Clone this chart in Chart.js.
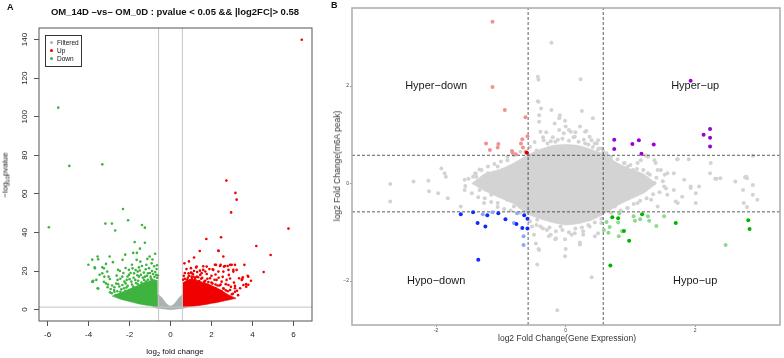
<!DOCTYPE html>
<html>
<head>
<meta charset="utf-8">
<script src="https://cdn.jsdelivr.net/npm/chart.js@4.4.0/dist/chart.umd.min.js"></script>
<style>
  body { margin: 0; background: #fff; width: 784px; height: 358px; position: relative; overflow: hidden;
         font-family: 'Liberation Sans', Arial, Helvetica, sans-serif; color: #111; }
  .abs { position: absolute; white-space: nowrap; }
  .ctr { transform: translate(-50%, -50%); }
  .rot { transform: translate(-50%, -50%) rotate(-90deg); }
  sub { font-size: 70%; vertical-align: -2px; line-height: 0; }
  #legA { left: 45px; top: 35px; width: 35px; height: 30px; border: 1px solid #333; font-size: 6.5px; }
  #legA div { position: absolute; left: 4px; }
  #legA span.dot { display: inline-block; width: 3px; height: 3px; border-radius: 50%; margin-right: 4px; vertical-align: 1px; }
</style>
</head>
<body>
<canvas id="cA" class="abs" style="left:0;top:0" width="330" height="358"></canvas>
<canvas id="cB" class="abs" style="left:330px;top:0" width="454" height="358"></canvas>

<div class="abs" style="left:7px;top:2px;font-weight:bold;font-size:9px">A</div>
<div class="abs ctr" style="left:175px;top:11px;font-weight:bold;font-size:9.5px">OM_14D –vs– OM_0D : pvalue &lt; 0.05 &amp;&amp; |log2FC|&gt; 0.58</div>
<div class="abs rot" style="left:5px;top:175px;font-size:8px">−log<sub>10</sub>pvalue</div>
<div class="abs ctr" style="left:175px;top:351px;font-size:8px">log<sub>2</sub> fold change</div>
<div id="legA" class="abs">
  <div style="top:3px"><span class="dot" style="background:#aab2b2"></span>Filtered</div>
  <div style="top:11px"><span class="dot" style="background:#f00000"></span>Up</div>
  <div style="top:18.5px"><span class="dot" style="background:#3fb33f"></span>Down</div>
</div>

<div class="abs" style="left:331px;top:0px;font-weight:bold;font-size:9px">B</div>
<div class="abs rot" style="left:337px;top:166px;font-size:8.5px;color:#333">log2 Fold Change(m6A peak)</div>
<div class="abs ctr" style="left:567px;top:338px;font-size:8.5px;color:#333">log2 Fold Change(Gene Expression)</div>

<script>
// ---------- Panel A : volcano plot ----------
const xTicksA = [-6, -4, -2, 0, 2, 4, 6];
const yTicksA = [0, 20, 40, 60, 80, 100, 120, 140];
const fcCut = 0.58;
const pCut = 1.3;

// significant down (green)
const downA = [
  [-5.94,42.7],[-5.48,104.7],[-4.94,74.5],[-3.33,75.3],
  [-2.32,52.2],[-2.07,46.3],[-3.18,44.6],[-2.86,44.6],[-2.70,41.0],[-1.39,43.9],[-1.25,42.5],
  [-1.75,35.0],[-1.25,34.7],[-1.49,31.6],[-1.82,29.4],[-1.64,29.4],[-2.21,28.5],[-2.97,27.5],
  [-3.56,27.5],[-3.82,25.9],[-4.01,23.3],[-2.34,25.8],[-2.81,24.6],[-3.15,23.7],[-3.33,22.0],
  [-3.70,22.0],[-3.46,18.1],[-3.77,15.0],[-3.53,10.9],[-1.13,26.3],[-1.18,23.3],[-1.65,25.8],
  [-1.88,23.3],[-2.56,20.6],[-2.19,21.6],[-1.47,24.9],[-3.79,14.4],[-3.56,11.1],[-3.25,14.4],
  [-3.53,26.1],[-3.69,21.4],
  [-3.23,17.1],[-3.02,17.1],[-2.96,15.9],[-3.15,13.6],[-3.07,11.6],[-2.92,10.7],[-2.74,11.6],
  [-2.58,15.4],[-2.63,17.6],[-2.47,20.0],[-2.35,17.1],[-2.14,15.4],[-2.03,18.0],[-2.03,20.6],
  [-1.85,21.4],[-1.78,18.8],[-1.60,19.7],[-1.54,21.9],[-1.39,22.6],[-1.21,20.9],[-1.10,18.8],
  [-1.25,17.1],[-1.54,17.1],[-1.72,15.4],[-1.91,14.5],[-2.09,12.3],[-2.27,11.1],[-2.45,9.3],
  [-2.68,7.6],[-2.55,13.3],[-0.89,15.4],[-0.81,13.6],[-0.97,17.1],[-1.29,15.4],[-1.05,12.3],
  [-1.34,12.6],[-1.60,13.3],[-1.82,11.9],[-2.19,13.6],[-2.35,12.8],[-2.74,9.3],[-2.87,8.5],
  [-3.82,14.5],[-3.62,15.4],[-3.33,18.8],[-3.25,21.4],[-3.09,19.7],
  [-0.65,16.5],[-0.70,18.0],[-0.75,19.5],[-0.68,21.0],[-0.78,17.0],[-0.85,18.5],[-0.90,20.0],
  [-0.95,16.0],[-1.00,19.0],[-1.05,21.5],[-1.10,15.5],[-1.15,17.5],[-1.20,14.5],[-1.30,19.2],
  [-1.35,16.5],[-1.42,14.0],[-1.45,18.0],[-1.50,20.3],[-1.58,15.0],[-1.62,17.8],[-1.68,13.8],
  [-1.70,20.5],[-1.80,16.5],[-1.88,13.0],[-1.95,19.0],[-2.00,15.8],[-2.10,17.2],[-2.15,11.5],
  [-2.25,14.5],[-2.30,19.0],[-2.40,10.5],[-2.45,16.0],[-2.50,12.0],[-2.60,9.5],[-2.65,13.5],
  [-2.75,10.2],[-2.85,12.5],[-2.95,9.0],[-3.05,13.0],[-0.72,14.5],[-0.82,12.2],[-0.95,13.2],
  [-1.12,12.5],[-1.25,11.5],[-1.55,11.5],[-1.75,10.8],[-2.00,10.0],[-2.20,9.8],[-0.62,17.8],
  [-0.66,23.0],[-0.80,22.5],[-0.92,24.0],[-1.02,27.5],[-0.75,29.0],[-0.88,26.0]
];
// dense part of the down cloud, upper and lower edge
const downCoreTop = [[-2.85,7.0],[-2.5,8.6],[-2.2,9.8],[-1.9,11.2],[-1.6,12.5],[-1.3,14.0],[-1.0,15.0],[-0.8,15.5],[-0.62,15.0]];
const downCoreBot = [[-2.85,7.0],[-2.5,5.6],[-2.2,4.7],[-1.9,3.9],[-1.6,3.1],[-1.3,2.5],[-1.0,2.0],[-0.8,1.7],[-0.62,1.4]];

// significant up (red)
const upA = [
  [6.41,139.9],[2.73,66.9],[3.17,60.5],[3.23,57.0],[2.96,50.4],[5.76,42.0],[1.75,36.6],[2.47,37.5],
  [1.43,30.4],[2.35,30.4],[4.19,33.0],[4.89,28.3],[3.61,23.2],[4.55,19.5],[3.93,15.0],[3.70,11.9],
  [3.80,12.9],[3.53,16.8],[3.77,17.5],[3.51,15.9],[3.56,12.8],[3.69,13.2],[3.15,23.2],[3.07,20.6],
  [3.23,20.6],[3.35,16.3],[3.15,11.1],[2.91,23.2],[2.66,22.6],[2.45,23.2],[2.22,23.2],[2.34,19.7],
  [2.09,20.6],[1.77,22.3],[1.52,18.9],[1.28,22.3],[1.03,18.9],[1.12,17.1],[2.58,27.5],[2.34,30.6],
  [1.00,19.2],[1.25,21.9],[1.44,20.2],[1.60,20.6],[1.03,17.1],[1.28,17.1],[1.77,18.5],[2.06,20.9],
  [2.17,23.2],[2.42,22.6],[2.61,22.3],[2.79,22.6],[2.99,23.2],[3.07,19.7],[2.83,20.6],[2.58,19.7],
  [1.93,16.3],[2.25,15.4],[2.50,14.5],[2.74,15.4],[2.91,16.1],[2.83,12.8],[3.15,12.3],[3.40,11.1],
  [3.15,9.3],[2.91,10.2],[2.58,11.1],[3.48,15.4],[3.80,17.1],
  [0.70,16.0],[0.90,17.5],[1.20,16.5],[1.50,16.0],[0.80,15.5],[1.70,15.0],[2.00,14.0],[2.20,13.0],
  [2.40,12.5],[2.70,10.0],[3.00,8.0],
  [0.62,15.5],[0.65,17.5],[0.70,19.0],[0.72,13.8],[0.78,21.0],[0.85,16.5],[0.88,18.8],[0.95,15.2],
  [1.00,21.5],[1.05,16.0],[1.10,18.5],[1.15,20.0],[1.20,15.8],[1.30,19.5],[1.35,16.8],[1.40,14.8],
  [1.45,18.0],[1.55,16.5],[1.60,22.5],[1.65,14.5],[1.70,19.8],[1.80,16.0],[1.85,14.3],[1.90,21.0],
  [2.00,17.5],[2.05,13.5],[2.15,15.5],[2.20,18.2],[2.30,12.5],[2.35,16.5],[2.45,13.0],[2.55,17.0],
  [2.60,10.8],[2.70,13.2],[2.80,9.5],[2.85,18.0],[2.95,11.8],[3.05,8.2],[3.10,14.0],[3.25,9.8],
  [3.30,7.5],[0.68,24.0],[0.90,25.0],[1.15,27.0],[0.78,12.5],[1.00,13.5],[1.30,13.0],[1.60,12.6],
  [1.90,12.0],[2.20,11.0],[2.50,9.5]
];
const upCoreTop = [[0.6,14.0],[0.9,15.5],[1.2,15.5],[1.5,14.5],[1.8,13.5],[2.1,12.0],[2.4,10.5],[2.7,8.5],[3.0,6.8],[3.2,5.9]];
const upCoreBot = [[0.6,1.4],[0.9,1.6],[1.2,1.9],[1.5,2.3],[1.8,2.8],[2.1,3.4],[2.4,4.0],[2.7,4.7],[3.0,5.4],[3.2,5.9]];

// not significant (grey V near zero)
const filtTop = [[-0.85,1.3],[-0.62,8.0],[-0.45,6.5],[-0.3,4.5],[-0.15,2.6],[0,1.8],[0.15,2.6],[0.3,4.5],[0.45,6.5],[0.62,8.0],[0.85,1.3]];
const filtBot = [[-0.85,1.3],[-0.62,0.6],[-0.45,0.5],[-0.3,0.3],[-0.15,0.1],[0,0],[0.15,0.1],[0.3,0.3],[0.45,0.5],[0.62,0.6],[0.85,1.3]];

// ---------- Panel B : four quadrant plot ----------
const xTicksB = [-2, 0, 2];
const yTicksB = [-2, 0, 2];
const quadCut = 0.58;
const quadLabels = [["Hyper−down",-2,2],["Hyper−up",2,2],["Hypo−down",-2,-2],["Hypo−up",2,-2]];

const hyperDownLight = [[-1.13,3.32],[-1.13,1.98],[-0.94,1.51],[-0.62,1.36],[-0.59,0.97],[-0.67,0.91],[-0.69,0.82],
  [-0.66,0.74],[-0.62,0.65],[-1.23,0.82],[-1.04,0.81],[-1.05,0.74],[-1.17,0.69],[-0.83,0.67],[-0.82,0.63],[-0.77,0.60]];
const hyperDownDark = [[-0.60,0.63]];
const hyperUp = [[1.93,2.11],[0.75,0.90],[0.75,0.71],[1.03,0.81],[1.13,0.89],[1.36,0.80],[1.17,0.61],
  [2.13,1.00],[2.23,1.12],[2.23,0.94],[2.23,0.76]];
const hypoDownDark = [[-1.62,-0.63],[-1.43,-0.59],[-1.36,-0.81],[-1.24,-0.88],[-1.21,-0.65],[-1.04,-0.61],
  [-0.93,-0.73],[-0.76,-0.83],[-0.67,-0.91],[-0.64,-0.65],[-0.59,-0.72],[-0.59,-0.92],[-1.35,-1.56]];
const hypoDownLight = [[-1.28,-0.63],[-1.13,-0.59],[-0.80,-0.81],[-0.75,-0.61],[-0.65,-1.08],[-0.65,-1.26]];
const hypoUpDark = [[0.72,-0.69],[0.81,-0.71],[1.18,-0.63],[0.90,-0.97],[0.98,-1.17],[0.69,-1.68],
  [1.70,-0.81],[2.82,-0.75],[2.84,-0.93]];
const hypoUpLight = [[0.63,-0.79],[0.59,-0.95],[0.68,-0.89],[0.66,-1.01],[0.81,-0.80],[0.87,-0.98],[0.82,-1.08],
  [1.05,-0.67],[1.07,-0.76],[1.15,-0.73],[1.27,-0.67],[1.29,-0.76],[1.40,-0.87],[1.52,-0.67],[2.47,-1.26],[0.83,-0.61]];

const otherB = [
  [-0.22,2.89],[-0.43,2.19],[-0.42,2.13],[0.23,2.14],[-0.43,1.69],[-0.42,1.68],[-0.38,1.54],[-0.41,1.40],
  [-0.41,1.27],[-0.22,1.51],[-0.09,1.40],[-0.17,1.23],[-0.10,1.10],[-0.23,0.87],[-0.34,0.89],[-0.39,1.06],
  [-0.16,0.86],[-0.03,1.03],[-0.10,1.34],[0.00,1.17],[0.25,1.49],[0.42,1.34],[0.22,1.17],[0.08,1.06],
  [0.30,1.06],[0.37,0.96],[0.14,0.96],[0.50,0.89],[0.51,0.72],[0.45,0.82],[0.63,0.62],[0.76,0.35],
  [0.91,0.42],[1.04,0.28],[1.16,0.48],[1.27,0.55],[1.39,0.42],[1.47,0.28],[1.73,0.50],[1.90,0.50],
  [2.24,0.42],[2.23,0.21],[2.89,0.57],[1.67,0.21],[1.53,0.18],[2.77,0.13],[2.39,0.11],[1.27,0.21],
  [1.16,0.14],[-0.01,1.29],[0.32,1.08],[0.40,0.89],[0.48,0.82],[0.30,0.82],[0.55,0.72],[0.70,0.48],
  [0.81,0.35],[0.96,0.35],[1.11,0.42],[1.24,0.57],[1.37,0.48],[1.42,0.28],[1.57,0.21],[1.72,0.50],
  [1.83,0.08],[2.33,0.10],[2.62,0.04],[2.80,0.11],[2.06,-0.06],[1.93,-0.06],[1.27,-0.06],[1.11,0.08],
  [0.91,-0.03],[0.86,0.18],
  [-1.92,0.31],[-1.87,0.21],[-2.35,0.04],[-2.71,-0.01],[-2.12,0.06],[-1.33,0.29],[-1.43,0.14],[-1.56,0.08],
  [-1.20,0.21],[-1.05,0.35],[-0.95,0.28],[-0.90,0.48],[-0.74,0.42],[-0.80,0.21],[-0.64,0.48],[-0.51,0.55],
  [-0.87,0.11],[-0.97,0.04],[-1.39,0.21],
  [-2.71,-0.37],[-2.11,-0.16],[-1.97,-0.20],[-1.82,-0.30],[-1.62,-0.47],[-1.56,-0.13],[-1.38,0.14],
  [-1.33,-0.13],[-1.26,-0.40],[-1.15,-0.23],[-1.05,-0.40],[-1.20,0.01],[-1.00,-0.13],[-0.90,-0.33],
  [-0.80,-0.47],[-0.69,-0.40],[-0.72,-0.20],[-0.44,-0.74],[-0.39,-0.88],[-0.49,-1.05],[-0.46,-1.23],
  [-0.41,-1.36],[-0.44,-1.66],[-0.23,-1.05],[-0.16,-1.14],[-0.08,-0.88],[-0.29,-0.95],[-0.52,-0.88],
  [-1.85,0.14],[-0.13,-2.60],[0.40,-1.92],[-0.01,-1.49],[-0.15,-1.12],[0.22,-1.21],[0.45,-1.08],
  [0.27,-1.05],[0.14,-1.02],[-0.26,-1.08],[-0.42,-1.34],[-0.01,-1.14],[0.00,-1.34],[0.22,-1.25],
  [0.09,-1.05],[0.27,-0.98],[0.37,-0.88],[0.50,-1.02],[0.55,-0.81],[0.42,-0.67],[0.17,-0.74],
  [0.76,-0.47],[0.91,-0.33],[0.96,-0.50],[1.11,-0.40],[1.22,-0.13],[1.32,-0.33],[1.42,-0.47],
  [1.37,0.01],[1.52,-0.06],[1.57,-0.23],[1.67,-0.13],[1.73,-0.40],[1.80,-0.27],[1.93,-0.09],
  [2.01,-0.20],[2.01,-0.40],[2.31,0.10],[2.74,-0.13],[2.75,-0.40],[2.80,-0.48],[2.79,0.14],
  [2.89,-0.03],[2.89,-0.23],[2.96,-0.33],[1.70,-0.37],
  // ring of points round the dense centre
  [-0.55,0.75],[-0.48,0.85],[-0.35,0.95],[-0.28,0.82],[-0.20,0.95],[-0.12,0.90],[-0.05,0.92],[0.05,0.88],
  [0.12,0.95],[0.20,0.86],[0.28,0.90],[0.35,0.80],[0.42,0.75],[0.50,0.70],[0.58,0.66],[-0.45,0.68],
  [0.15,1.05],[-0.30,1.05],[0.05,1.10],
  [-1.50,0.10],[-1.40,0.20],[-1.30,0.28],[-1.20,0.35],[-1.10,0.40],[-1.00,0.45],[-0.90,0.55],[-0.80,0.58],
  [-0.70,0.65],[-1.55,-0.05],[-1.45,-0.20],[-1.35,-0.28],[-1.25,-0.30],[-1.15,-0.38],[-1.05,-0.48],
  [-0.95,-0.52],[-0.85,-0.55],[-0.70,-0.60],
  [-0.55,-0.78],[-0.45,-0.85],[-0.35,-0.92],[-0.25,-0.90],[-0.15,-0.98],[-0.05,-0.95],[0.05,-1.00],
  [0.15,-0.92],[0.25,-0.90],[0.35,-0.85],[0.45,-0.80],[0.55,-0.72],
  [0.70,0.55],[0.80,0.50],[0.90,0.42],[1.00,0.38],[1.10,0.30],[1.20,0.28],[1.30,0.18],[1.40,0.12],
  [1.50,0.05],[1.55,-0.10],[1.45,-0.18],[1.35,-0.22],[1.25,-0.30],[1.15,-0.35],[1.05,-0.42],
  [0.95,-0.50],[0.85,-0.55],[0.70,-0.60]
];
const otherCoreTop = [[-1.45,0.0],[-1.25,0.2],[-1.0,0.3],[-0.8,0.42],[-0.6,0.58],[-0.4,0.7],[-0.2,0.78],[0,0.8],
  [0.2,0.78],[0.4,0.7],[0.6,0.6],[0.8,0.42],[1.0,0.3],[1.2,0.2],[1.4,0.0]];
const otherCoreBot = [[-1.45,0.0],[-1.25,-0.15],[-1.0,-0.3],[-0.8,-0.42],[-0.6,-0.62],[-0.4,-0.72],[-0.2,-0.8],[0,-0.85],
  [0.2,-0.82],[0.4,-0.75],[0.6,-0.62],[0.8,-0.45],[1.0,-0.32],[1.2,-0.2],[1.4,0.0]];

// ---------- helpers ----------
const FONT = "'Liberation Sans', Arial, Helvetica, sans-serif";
const toXY = arr => arr.map(p => ({ x: p[0], y: p[1] }));

function pts(arr, color, r, order) {
  return { type: 'scatter', data: toXY(arr), backgroundColor: color, borderWidth: 0, pointRadius: r, order: order };
}
function edge(arr, color, fill, order) {
  return { type: 'line', data: toXY(arr), borderColor: color, backgroundColor: color, borderWidth: 0.6,
           pointRadius: 0, fill: fill, tension: 0.2, order: order };
}
function rule(a, b, color, dash, width, order) {
  return { type: 'line', data: [{ x: a[0], y: a[1] }, { x: b[0], y: b[1] }], borderColor: color, borderWidth: width,
           borderDash: dash, pointRadius: 0, fill: false, order: order };
}
const setTicks = list => scale => { scale.ticks = list.map(v => ({ value: v })); };

// frame drawn around the plot area
const frame = {
  id: 'frame',
  afterDraw(chart, args, opts) {
    const a = chart.chartArea, ctx = chart.ctx;
    ctx.save();
    ctx.strokeStyle = opts.color;
    ctx.lineWidth = opts.width;
    ctx.strokeRect(a.left, a.top, a.right - a.left, a.bottom - a.top);
    ctx.restore();
  }
};

// ---------- Chart A ----------
const A = { xMin: -6.42, xMax: 6.91, yMin: -5.9, yMax: 146 };
const green = '#3fb33f', red = '#f00000', grey = '#aab2b2';

new Chart(document.getElementById('cA'), {
  type: 'scatter',
  data: {
    datasets: [
      pts(upA, red, 1.3, 0),
      pts(downA, green, 1.3, 0),
      edge(upCoreTop, red, '+1', 2),
      edge(upCoreBot, red, false, 2),
      edge(downCoreTop, green, '+1', 2),
      edge(downCoreBot, green, false, 2),
      edge(filtTop, grey, '+1', 3),
      edge(filtBot, grey, false, 3),
      rule([-fcCut, A.yMin], [-fcCut, A.yMax], '#c4c4c4', [], 1, 1),
      rule([fcCut, A.yMin], [fcCut, A.yMax], '#c4c4c4', [], 1, 1),
      rule([A.xMin, pCut], [A.xMax, pCut], '#c4c4c4', [], 1, 1)
    ]
  },
  options: {
    responsive: false, animation: false, devicePixelRatio: 1,
    layout: { padding: { left: 0, top: 28, right: 18, bottom: 0 } },
    plugins: {
      legend: { display: false }, tooltip: { enabled: false },
      frame: { color: '#555', width: 1 }
    },
    scales: {
      x: {
        type: 'linear', min: A.xMin, max: A.xMax,
        afterBuildTicks: setTicks(xTicksA),
        afterFit: s => { s.height = 37; },
        border: { display: false },
        grid: { drawOnChartArea: false, drawTicks: true, tickLength: 5, color: '#555' },
        ticks: { font: { family: FONT, size: 8 }, color: '#222', padding: 4, maxRotation: 0, autoSkip: false }
      },
      y: {
        type: 'linear', min: A.yMin, max: A.yMax,
        afterBuildTicks: setTicks(yTicksA),
        afterFit: s => { s.width = 39; },
        border: { display: false },
        grid: { drawOnChartArea: false, drawTicks: true, tickLength: 5, color: '#555' },
        ticks: { display: false }
      }
    }
  },
  plugins: [frame, {
    id: 'yLabelsA',
    afterDraw(chart) {
      const ctx = chart.ctx, ys = chart.scales.y;
      ctx.save();
      ctx.fillStyle = '#222';
      ctx.font = '8px ' + FONT;
      ctx.textAlign = 'center';
      ctx.textBaseline = 'middle';
      yTicksA.forEach(v => {
        ctx.save();
        ctx.translate(25, ys.getPixelForValue(v));
        ctx.rotate(-Math.PI / 2);
        ctx.fillText(String(v), 0, 0);
        ctx.restore();
      });
      ctx.restore();
    }
  }]
});

// ---------- Chart B ----------
const B = { xMin: -3.30, xMax: 3.31, yMin: -2.9, yMax: 3.6 };
const lightGrey = '#d3d3d3';

new Chart(document.getElementById('cB'), {
  type: 'scatter',
  data: {
    datasets: [
      pts(hyperDownDark, '#d10000', 2, 0),
      pts(hyperDownLight, '#f39191', 2, 0),
      pts(hyperUp, '#9a00d8', 2, 0),
      pts(hypoDownDark, '#0f2cff', 2, 0),
      pts(hypoDownLight, '#93a5f7', 2, 0),
      pts(hypoUpDark, '#00b400', 2, 0),
      pts(hypoUpLight, '#8ed98e', 2, 0),
      rule([-quadCut, B.yMin], [-quadCut, B.yMax], '#333', [3, 2], 0.8, 1),
      rule([quadCut, B.yMin], [quadCut, B.yMax], '#333', [3, 2], 0.8, 1),
      rule([B.xMin, quadCut], [B.xMax, quadCut], '#333', [3, 2], 0.8, 1),
      rule([B.xMin, -quadCut], [B.xMax, -quadCut], '#333', [3, 2], 0.8, 1),
      pts(otherB, lightGrey, 2, 2),
      edge(otherCoreTop, lightGrey, '+1', 3),
      edge(otherCoreBot, lightGrey, false, 3)
    ]
  },
  options: {
    responsive: false, animation: false, devicePixelRatio: 1,
    layout: { padding: { left: 0, top: 8, right: 1, bottom: 0 } },
    plugins: {
      legend: { display: false }, tooltip: { enabled: false },
      frame: { color: '#b0b0b0', width: 1.6 }
    },
    scales: {
      x: {
        type: 'linear', min: B.xMin, max: B.xMax,
        afterBuildTicks: setTicks(xTicksB),
        afterFit: s => { s.height = 33; },
        border: { display: false },
        grid: { drawOnChartArea: false, drawTicks: true, tickLength: 2, color: '#999' },
        ticks: { font: { family: FONT, size: 5 }, color: '#444', padding: 1, maxRotation: 0, autoSkip: false }
      },
      y: {
        type: 'linear', min: B.yMin, max: B.yMax,
        afterBuildTicks: setTicks(yTicksB),
        afterFit: s => { s.width = 22; },
        border: { display: false },
        grid: { drawOnChartArea: false, drawTicks: true, tickLength: 2, color: '#999' },
        ticks: { font: { family: FONT, size: 5 }, color: '#444', padding: 1, autoSkip: false,
                 callback: v => (v < 0 ? '−' + Math.abs(v) : String(v)) }
      }
    }
  },
  plugins: [frame, {
    id: 'quadText',
    afterDatasetsDraw(chart) {
      const ctx = chart.ctx, xs = chart.scales.x, ys = chart.scales.y;
      ctx.save();
      ctx.fillStyle = '#1a1a1a';
      ctx.font = '11px ' + FONT;
      ctx.textAlign = 'center';
      ctx.textBaseline = 'middle';
      quadLabels.forEach(q => ctx.fillText(q[0], xs.getPixelForValue(q[1]), ys.getPixelForValue(q[2])));
      ctx.restore();
    }
  }]
});
</script>
</body>
</html>
